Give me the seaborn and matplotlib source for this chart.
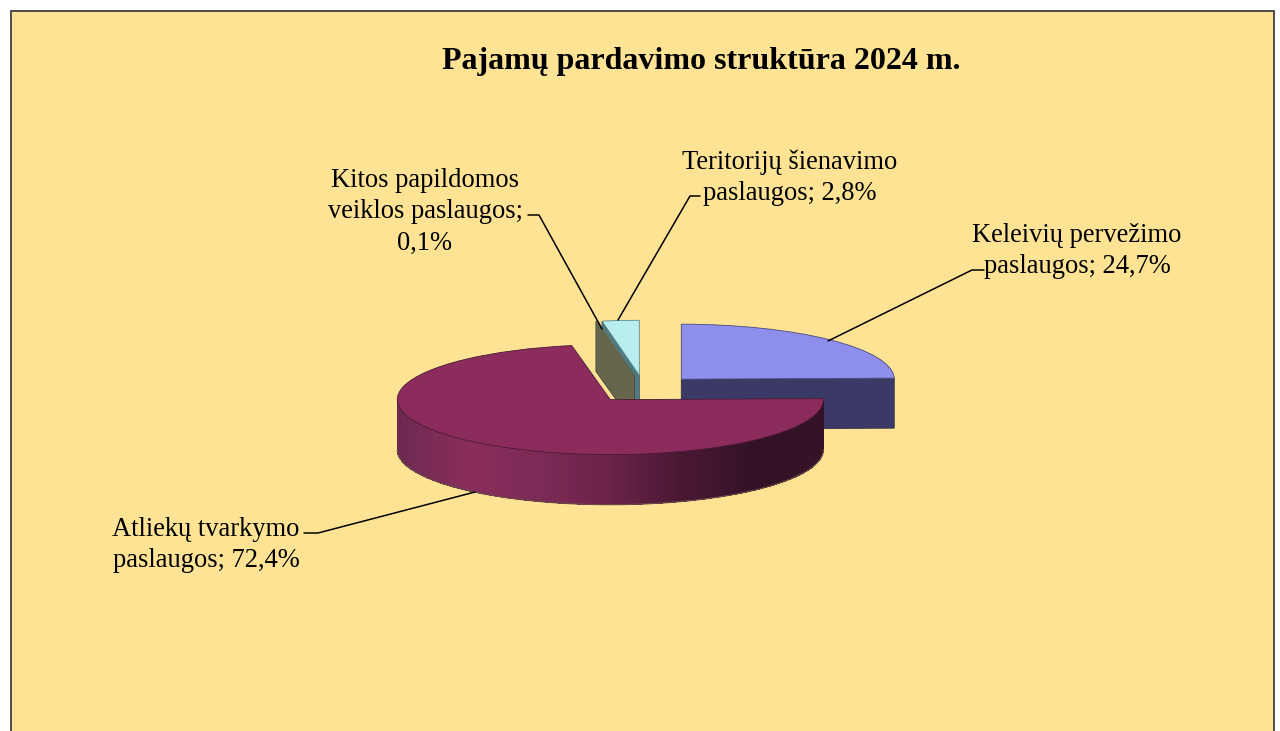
import numpy as np
import matplotlib
matplotlib.use('Agg')
import matplotlib.pyplot as plt
from matplotlib.patches import Rectangle
import seaborn as sns

title = 'Pajamų pardavimo struktūra 2024 m.'
categories = ['Keleivių pervežimo paslaugos', 'Atliekų tvarkymo paslaugos',
              'Kitos papildomos veiklos paslaugos', 'Teritorijų šienavimo paslaugos']
shares = [24.7, 72.4, 0.1, 2.8]
# where the category names wrap
label_lines = ['Keleivių pervežimo\npaslaugos; {}%', 'Atliekų tvarkymo\npaslaugos; {}%',
               'Kitos papildomos\nveiklos paslaugos;\n{}%', 'Teritorijų šienavimo\npaslaugos; {}%']
top_colors = ['#8e8eec', '#8c2c5c', '#dcdcb4', '#b9eef0']
wall_colors = ['#3b3a66', '#8c2c5c', '#66664d', '#4f7c84']

W, H = 1280, 731
RX, RY, DEPTH = 213.0, 55.0, 50.0   # pixels of the squashed unit circle
CX, CY = 644.0, 389.0

sns.set_theme(style='white')
plt.rcParams['font.family'] = ['Liberation Serif', 'DejaVu Serif']

fig = plt.figure(figsize=(W / 100, H / 100), dpi=100, facecolor='white')
ax = fig.add_axes([0, 0, 1, 1])

def px(x, y):
    return (x - CX) / RX, (CY - y) / RY

# background panel, its bottom edge is cut off by the image
fig.add_artist(Rectangle((11 / W, -0.02), (1274 - 11) / W, 1.02 - 11.5 / H, transform=fig.transFigure,
                         facecolor='#fee395', edgecolor='#404040', linewidth=1.3, zorder=-5))

wedges, _ = ax.pie(shares, explode=[0.25] * 4, startangle=90, counterclock=False,
                   colors=top_colors, radius=1,
                   wedgeprops=dict(linewidth=0.6))
ax.set_aspect('auto')
ax.set_xlim(-CX / RX, (W - CX) / RX)
ax.set_ylim((CY - H) / RY, CY / RY)

d = DEPTH / RY

def radial_wall(w, theta, color, z):
    cx, cy = w.center
    t = np.radians(theta)
    xs = [cx, cx + np.cos(t), cx + np.cos(t), cx]
    ys = [cy, cy + np.sin(t), cy + np.sin(t) - d, cy - d]
    ax.fill(xs, ys, facecolor=color, edgecolor=sns.dark_palette(color, 3)[1], linewidth=0.6, zorder=z)

keleiviu, atlieku, kitos, teritoriju = wedges
for w, edge, z in [(teritoriju, '#5c8a8f', 3), (kitos, '#66664d', 5), (keleiviu, '#4a4a80', 3), (atlieku, '#4a1a38', 7)]:
    w.set_edgecolor(edge)
    w.set_zorder(z)

radial_wall(teritoriju, teritoriju.theta2, wall_colors[3], 2)
radial_wall(kitos, kitos.theta2, wall_colors[2], 4)
radial_wall(keleiviu, keleiviu.theta1, wall_colors[0], 2)

# round front wall of the big slice, shaded from left to right
shade = sns.blend_palette(['#6c2a50', '#8a2d5b', '#7c2a56', '#6a2349', '#4a1833', '#341226', '#351327'], as_cmap=True)
cx, cy = atlieku.center
angles = np.radians(np.linspace(180, 360, 361))
for a0, a1 in zip(angles[:-1], angles[1:]):
    c = shade((np.cos((a0 + a1) / 2) + 1) / 2)
    xs = [cx + np.cos(a0), cx + np.cos(a1), cx + np.cos(a1), cx + np.cos(a0)]
    ys = [cy + np.sin(a0), cy + np.sin(a1), cy + np.sin(a1) - d, cy + np.sin(a0) - d]
    ax.fill(xs, ys, facecolor=c, edgecolor='none', linewidth=0, antialiased=False, zorder=6)
ax.plot(cx + np.cos(angles), cy + np.sin(angles) - d, color='#6a4a48', linewidth=0.9, zorder=6)

# leader lines
leaders = [[(984, 270), (972, 270), (828, 341)],
           [(304, 533), (318, 533), (475, 492)],
           [(528, 215), (539, 215), (602, 329)],
           [(700, 196), (690, 196), (618, 320)]]
for pts in leaders:
    xy = np.array([px(*p) for p in pts])
    ax.plot(xy[:, 0], xy[:, 1], color='black', linewidth=1.1, zorder=8)

label_pos = [(1077, 251), (206, 545), (425, 212), (790, 178)]
for tmpl, v, (x, y) in zip(label_lines, shares, label_pos):
    s = tmpl.format(str(v).replace('.', ','))
    ax.text(*px(x, y), s, ha='center', va='center', multialignment='center',
            fontsize=19.1, color='black', linespacing=1.33, zorder=9)

ax.text(*px(701, 62), title, ha='center', va='center', fontsize=23, fontweight='bold', color='black', zorder=9)

fig.savefig('out.png', dpi=100)
